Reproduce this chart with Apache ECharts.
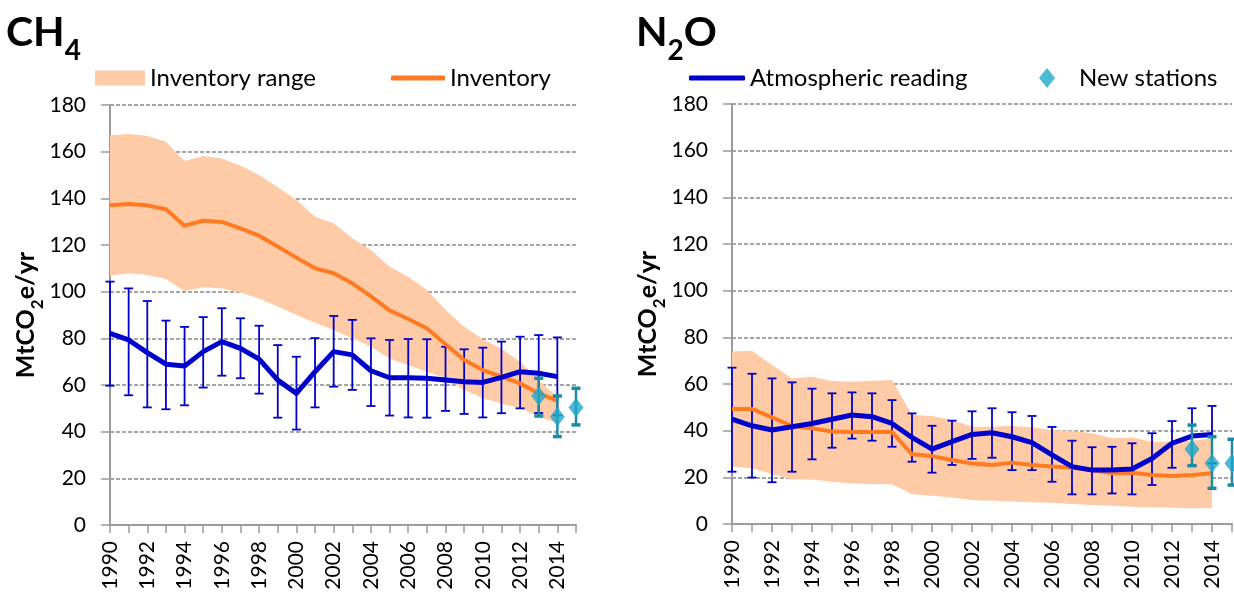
<!DOCTYPE html>
<html><head><meta charset="utf-8">
<script src="https://cdn.jsdelivr.net/npm/echarts/dist/echarts.min.js"></script>
<style>html,body{margin:0;padding:0;background:#fff}#c{width:1234px;height:598px}</style>
</head><body><div id="c"></div>
<script>
// ---------- DATA ----------
const years = ['1990','1991','1992','1993','1994','1995','1996','1997','1998','1999','2000','2001','2002','2003','2004','2005','2006','2007','2008','2009','2010','2011','2012','2013','2014','2015'];
const yTicks = [0, 20, 40, 60, 80, 100, 120, 140, 160, 180];

// CH4 (1990-2014)
const ch4InvLow  = [106.9,107.9,107.1,105.4,100.3,101.9,101.4,99.6,97.1,93.6,90,86.7,83.6,80,76.4,71.4,68.5,65.7,62.9,57.9,54.3,52.1,50,46.4,43.6];
const ch4InvHigh = [167,167.6,166.7,164.3,156,158.1,157.1,154,150,144.7,139.3,132.1,129.3,122.9,117.9,110.7,106.4,100.7,92.1,85,79.6,75.5,70,62,55];
const ch4Inventory = [137,137.6,137,135.3,128.3,130.4,129.9,127.1,124,119.3,114.6,110,107.9,103.6,98,92,88.3,84.3,77.5,70.7,66.4,63.6,60.7,56.4,53.3];
const ch4Atmos     = [82.1,79.3,73.9,68.9,68.1,74.3,78.6,75.7,71.1,62.1,56.4,65.7,74.3,72.9,66.1,63.1,63.1,62.9,62.1,61.4,61.1,63.3,65.7,65,63.6];
const ch4AtmosHigh = [104.3,101.4,96,87.6,84.9,89.1,92.9,88.6,85.4,77.1,72.1,80.1,89.6,87.9,80,79.3,79.7,79.6,76.4,75.3,76,78.6,80.7,81.4,80.4];
const ch4AtmosLow  = [59.7,55.6,50.4,49.6,51.3,58.9,64,62.9,56.3,46,40.9,50.4,59.3,57.9,51,46.9,46.1,46,48.9,47.6,46.1,47.9,50,48,47];
const newYears = ['2013','2014','2015'];
const ch4New     = [55.3,46.4,50.4];
const ch4NewLow  = [46.7,37.9,42.9];
const ch4NewHigh = [62.9,55.3,58.6];

// N2O (1990-2014)
const n2oInvLow  = [24.6,23.9,21.4,19.1,19.1,18.1,17.4,17.1,17,12.7,12.1,11.4,10.3,10,9.6,9.3,9.1,8.6,8.1,7.8,7.4,7.2,7,6.9,6.7];
const n2oInvHigh = [73.9,74.3,68.1,62.4,63.1,61.3,61,61.4,61.7,46.7,46.3,44.6,41.7,41.7,42.1,41.4,40.3,39.9,38.9,36.7,37.1,35.3,35.3,35.7,36.7];
const n2oInventory = [49.3,49.3,45.7,42,41,39.6,39.4,39.4,39.4,29.9,29.1,27.4,25.9,25.3,26.3,25.3,24.6,24.1,23.1,21.7,22,21,20.6,21,21.7];
const n2oAtmos     = [44.9,42.1,40.3,41.7,43.1,44.9,46.7,46,43.1,37.1,32.1,35.3,38.4,39.1,37.4,34.9,29.6,24.6,23.1,23.1,23.6,28.1,34.6,37.7,38.4];
const n2oAtmosHigh = [67,64.4,62.4,60.7,58,56,56.4,56,53.1,47.4,42.1,44.3,48.3,49.6,47.9,46.3,41.6,35.7,32.9,33.1,34.6,38.9,44.1,49.6,50.6];
const n2oAtmosLow  = [22.4,19.9,17.9,22.4,27.7,32.7,36.6,35.7,33.1,26.7,22,25.3,27.9,28.4,23.1,23.1,18.1,12.7,12.7,13.1,12.7,16.7,24.1,25,26];
const n2oNew     = [32,26,26];
const n2oNewLow  = [25,15.3,16.7];
const n2oNewHigh = [42.4,37.4,36.3];

// ---------- STYLE ----------
const FONT = 'Lato';
const C_BAND = '#FFCAA6', C_INV = '#FF7B22', C_ATM = '#0000CC', C_NEW = '#1FA8CB', C_NEWERR = '#1A8BA5';

function errRender(capW, lw, vlw, color) {
  return function (params, api) {
    const x = api.value(0);
    const lo = api.coord([x, api.value(1)]);
    const hi = api.coord([x, api.value(2)]);
    const h = capW / 2;
    return { type: 'group', children: [
      { type: 'line', shape: { x1: lo[0], y1: lo[1], x2: hi[0], y2: hi[1] }, style: { stroke: color, lineWidth: vlw } },
      { type: 'line', shape: { x1: hi[0] - h, y1: hi[1], x2: hi[0] + h, y2: hi[1] }, style: { stroke: color, lineWidth: lw } },
      { type: 'line', shape: { x1: lo[0] - h, y1: lo[1], x2: lo[0] + h, y2: lo[1] }, style: { stroke: color, lineWidth: lw } }
    ]};
  };
}

function panelSeries(i, low, high, inv, atm, atmLo, atmHi, nw, nwLo, nwHi) {
  const ax = { xAxisIndex: i, yAxisIndex: i };
  return [
    Object.assign({ type: 'line', name: '_low' + i, stack: 'band' + i, data: low, symbol: 'none',
      lineStyle: { width: 0, opacity: 0 }, silent: true }, ax),
    Object.assign({ type: 'line', name: 'Inventory range', stack: 'band' + i,
      data: high.map((v, k) => +(v - low[k]).toFixed(2)), symbol: 'none', color: C_BAND,
      itemStyle: { color: C_BAND }, lineStyle: { width: 0, opacity: 0 },
      areaStyle: { color: C_BAND, opacity: 1 } }, ax),
    Object.assign({ type: 'custom', name: '_atmErr' + i,
      data: atm.map((v, k) => [years[k], atmLo[k], atmHi[k]]),
      encode: { x: 0, y: [1, 2] }, renderItem: errRender(9, 1.8, 1.8, C_ATM), z: 3 }, ax),
    Object.assign({ type: 'line', name: 'Inventory', data: inv, symbol: 'none', color: C_INV,
      lineStyle: { width: 4, color: C_INV, join: 'round' }, z: 4 }, ax),
    Object.assign({ type: 'line', name: 'Atmospheric reading', data: atm, symbol: 'none', color: C_ATM,
      lineStyle: { width: 5, color: C_ATM, join: 'round' }, z: 5 }, ax),
    Object.assign({ type: 'custom', name: '_newErr' + i,
      data: nw.map((v, k) => [newYears[k], nwLo[k], nwHi[k]]),
      encode: { x: 0, y: [1, 2] }, renderItem: errRender(9, 3.5, 2.5, C_NEWERR), z: 6 }, ax),
    Object.assign({ type: 'scatter', name: 'New stations', data: nw.map((v, k) => [newYears[k], v]),
      symbol: 'diamond', symbolSize: [15, 19], color: C_NEW, itemStyle: { color: C_NEW }, z: 7 }, ax)
  ];
}

function xAxis(i) {
  return { type: 'category', gridIndex: i, data: years, boundaryGap: false,
    axisLine: { lineStyle: { color: '#9a9a9a', width: 2 } },
    axisTick: { show: true, interval: 0, length: 8, lineStyle: { color: '#9a9a9a', width: 1.5 } },
    axisLabel: { interval: 1, rotate: 90, margin: 16, color: '#000', fontFamily: FONT, fontSize: 21 },
    splitLine: { show: false } };
}
function yAxis(i, gap) {
  return { type: 'value', gridIndex: i, min: yTicks[0], max: yTicks[yTicks.length - 1], interval: 20,
    name: '{a|MtCO}{b|2}{a|e/yr}', nameLocation: 'middle', nameRotate: 90, nameGap: gap,
    nameTextStyle: { rich: {
      a: { fontFamily: FONT, fontWeight: 'bold', fontSize: 25, color: '#000', lineHeight: 30, verticalAlign: 'top' },
      b: { fontFamily: FONT, fontWeight: 'bold', fontSize: 17, color: '#000', lineHeight: 17, padding: [15, 0, 0, 0], verticalAlign: 'top' } } },
    axisLine: { show: true, lineStyle: { color: '#9a9a9a', width: 2 } },
    axisTick: { show: true, length: 9, lineStyle: { color: '#9a9a9a', width: 1.5 } },
    axisLabel: { margin: 24, color: '#000', fontFamily: FONT, fontSize: 21 },
    splitLine: { show: true, lineStyle: { color: '#888', width: 1.5, type: [4, 2] } } };
}

const titleRich = {
  a: { fontFamily: FONT, fontWeight: 'bold', fontSize: 41, color: '#000', lineHeight: 46, verticalAlign: 'top' },
  b: { fontFamily: FONT, fontWeight: 'bold', fontSize: 28, color: '#000', lineHeight: 28, padding: [25, 0, 0, 0], verticalAlign: 'top' }
};
const legText = { fontFamily: FONT, fontSize: 24, color: '#000' };

const option = {
  animation: false,
  backgroundColor: '#fff',
  title: [
    { text: '{a|CH}{b|4}', left: 6, top: 12, padding: 0, textStyle: { rich: titleRich } },
    { text: '{a|N}{b|2}{a|O}', left: 636, top: 12, padding: 0, textStyle: { rich: titleRich } }
  ],
  legend: [
    { data: [{ name: 'Inventory range', icon: 'rect' }], left: 95, top: 66, padding: 0, itemWidth: 50, itemHeight: 15, textStyle: legText, selectedMode: false },
    { data: [{ name: 'Inventory', icon: 'roundRect' }], left: 391, top: 66, padding: 0, itemWidth: 54, itemHeight: 5, textStyle: legText, selectedMode: false },
    { data: [{ name: 'Atmospheric reading', icon: 'roundRect' }], left: 689, top: 66, padding: 0, itemWidth: 56, itemHeight: 5, textStyle: legText, selectedMode: false },
    { data: [{ name: 'New stations', icon: 'diamond' }], left: 1039, top: 66, padding: 0, itemWidth: 16, itemHeight: 20, textStyle: Object.assign({ padding: [0, 0, 0, 19] }, legText), selectedMode: false }
  ],
  grid: [
    { left: 110, top: 105, width: 466, height: 420 },
    { left: 732, top: 104, width: 500, height: 420 }
  ],
  xAxis: [xAxis(0), xAxis(1)],
  yAxis: [yAxis(0, 66), yAxis(1, 64)],
  series: [].concat(
    panelSeries(0, ch4InvLow, ch4InvHigh, ch4Inventory, ch4Atmos, ch4AtmosLow, ch4AtmosHigh, ch4New, ch4NewLow, ch4NewHigh),
    panelSeries(1, n2oInvLow, n2oInvHigh, n2oInventory, n2oAtmos, n2oAtmosLow, n2oAtmosHigh, n2oNew, n2oNewLow, n2oNewHigh)
  )
};
const chart = echarts.init(document.getElementById('c'), null, { renderer: 'canvas' });
chart.setOption(option);
</script>
</body></html>
